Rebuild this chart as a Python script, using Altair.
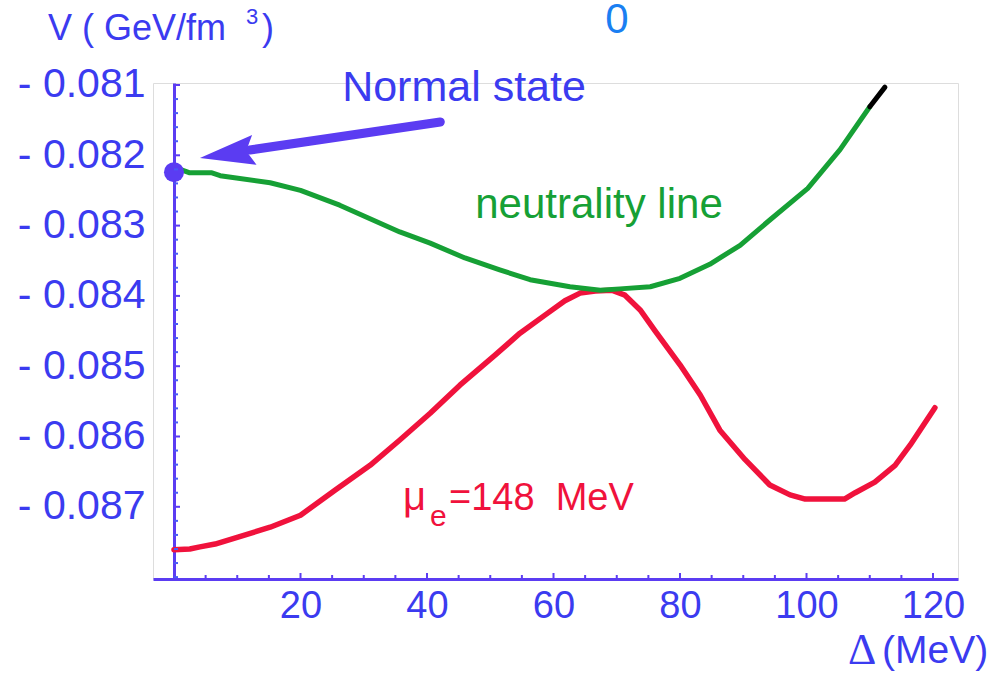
import altair as alt
import pandas as pd

# ---------------- data ----------------
green_x = [0.0, 1.3, 2.5, 6.0, 7.3, 15.2, 20.0, 26.2, 35.7, 40.5, 46.0, 51.5, 56.3,
           62.6, 67.4, 70.5, 75.3, 80.0, 84.7, 89.5, 94.2, 100.2, 105.3, 110.0]
green_v = [-0.08224, -0.08221, -0.08225, -0.08225, -0.08229, -0.08239, -0.08250,
           -0.08271, -0.08309, -0.08325, -0.08346, -0.08363, -0.08377, -0.08387,
           -0.08392, -0.08390, -0.08387, -0.08375, -0.08355, -0.08328, -0.08292,
           -0.08247, -0.08192, -0.08131]
black_x = [110.0, 112.4]
black_v = [-0.08131, -0.08103]

red_x = [0.0, 2.5, 4.1, 6.5, 15.2, 20.0, 25.5, 31.0, 35.7, 40.5, 45.2, 50.8, 54.7,
         58.7, 61.8, 64.2, 66.6, 69.2, 71.3, 73.7, 76.0, 80.0, 83.2, 86.3, 90.3,
         94.2, 97.4, 99.8, 106.0, 107.7, 110.8, 114.0, 116.4, 120.3]
red_v = [-0.08761, -0.08760, -0.08757, -0.08753, -0.08729, -0.08712, -0.08676,
         -0.08641, -0.08605, -0.08567, -0.08527, -0.08484, -0.08453, -0.08427,
         -0.08407, -0.08396, -0.08393, -0.08392, -0.08399, -0.08420, -0.08449,
         -0.08498, -0.08541, -0.08591, -0.08633, -0.08669, -0.08683, -0.08689,
         -0.08689, -0.08680, -0.08665, -0.08641, -0.08612, -0.08559]

dot_x = [0.0]
dot_v = [-0.08224]
arrow_x = [42.1, 12.0]
arrow_v = [-0.081526, -0.081925]
head_x = [4.1]
head_v = [-0.082038]

x_major = [20, 40, 60, 80, 100, 120]
x_minor = [5, 10, 15, 25, 30, 35, 45, 50, 55, 65, 70, 75, 85, 90, 95, 105, 110, 115]
y_major = [-0.081, -0.082, -0.083, -0.084, -0.085, -0.086, -0.087]
y_minor = [-0.0812, -0.0814, -0.0816, -0.0818, -0.0822, -0.0824, -0.0826, -0.0828,
           -0.0832, -0.0834, -0.0836, -0.0838, -0.0842, -0.0844, -0.0846, -0.0848,
           -0.0852, -0.0854, -0.0856, -0.0858, -0.0862, -0.0864, -0.0866, -0.0868,
           -0.0872, -0.0874, -0.0876, -0.0878, -0.0880]

# ---------------- styling ----------------
W, H = 805, 496
FONT = "Liberation Sans"
BLUE = "#3b3bf0"
VIOLET = "#5b3cf2"
GREEN = "#16a035"
RED = "#f0123c"

xs = alt.Scale(domain=[-3.32, 123.95], nice=False, zero=False)
ys = alt.Scale(domain=[-0.088027, -0.0809716], nice=False, zero=False)

xaxis = alt.Axis(values=x_major, title=None, grid=False, ticks=False,
                 domainColor=VIOLET, domainWidth=3, labelFont=FONT,
                 labelFontSize=38, labelColor=BLUE, labelPadding=8,
                 labelFlush=False)
yaxis = alt.Axis(values=y_major, title=None, grid=False, ticks=False, offset=-21,
                 domainColor=VIOLET, domainWidth=3, labelFont=FONT,
                 labelFontSize=41, labelColor=BLUE, labelPadding=29,
                 labelExpr="'-\u00a0' + format(-datum.value, '.3f')")


def xy():
    return dict(x=alt.X("x:Q", scale=xs, axis=xaxis),
                y=alt.Y("v:Q", scale=ys, axis=yaxis))


red = alt.Chart(pd.DataFrame({"x": red_x, "v": red_v})).mark_line(
    color=RED, strokeWidth=5.5, strokeCap="round", strokeJoin="round").encode(**xy())
green = alt.Chart(pd.DataFrame({"x": green_x, "v": green_v})).mark_line(
    color=GREEN, strokeWidth=5, strokeCap="round", strokeJoin="round").encode(**xy())
black = alt.Chart(pd.DataFrame({"x": black_x, "v": black_v})).mark_line(
    color="black", strokeWidth=5, strokeCap="round").encode(**xy())
shaft = alt.Chart(pd.DataFrame({"x": arrow_x, "v": arrow_v})).mark_line(
    color=VIOLET, strokeWidth=9, strokeCap="round").encode(**xy())
head = alt.Chart(pd.DataFrame({"x": head_x, "v": head_v})).mark_point(
    shape="M0,0 L2,-0.55 L1.7,0 L2,0.55 Z", filled=True, size=3025, angle=351.5,
    color=VIOLET, opacity=1, strokeWidth=0).encode(**xy())
dot = alt.Chart(pd.DataFrame({"x": dot_x, "v": dot_v})).mark_circle(
    color=VIOLET, size=400, opacity=1).encode(**xy())

xt_major = alt.Chart(pd.DataFrame({"x": x_major})).mark_rule(
    color=VIOLET, strokeWidth=2).encode(
    x=alt.X("x:Q", scale=xs, axis=xaxis), y=alt.value(H), y2=alt.value(H - 6))
xt_minor = alt.Chart(pd.DataFrame({"x": x_minor})).mark_rule(
    color=VIOLET, strokeWidth=2).encode(
    x=alt.X("x:Q", scale=xs, axis=xaxis), y=alt.value(H), y2=alt.value(H - 4))
yt_major = alt.Chart(pd.DataFrame({"v": y_major})).mark_rule(
    color=VIOLET, strokeWidth=2).encode(
    y=alt.Y("v:Q", scale=ys, axis=yaxis), x=alt.value(21), x2=alt.value(27))
yt_minor = alt.Chart(pd.DataFrame({"v": y_minor})).mark_rule(
    color="#4a5af5", strokeWidth=2).encode(
    y=alt.Y("v:Q", scale=ys, axis=yaxis), x=alt.value(21), x2=alt.value(25))


def label(text, px, py, size, color, align="left", baseline="alphabetic", font=FONT):
    return alt.Chart(pd.DataFrame({"t": [text]})).mark_text(
        text=text, font=font, fontSize=size, color=color, align=align,
        baseline=baseline).encode(x=alt.value(px - 153), y=alt.value(py - 83))


NB = "\u00a0"
texts = [
    label("V" + NB + "(" + NB + "GeV/fm", 48, 40, 36, BLUE),
    label("3", 246, 24, 22, BLUE),
    label(")", 262, 40, 36, BLUE),
    label("0", 617, 33, 42, "#1a7ff2", align="center"),
    label("Normal state", 464, 101, 43, BLUE, align="center"),
    label("neutrality line", 599, 218, 42, GREEN, align="center"),
    label("\u03bc", 403, 510, 40, RED),
    label("e", 430, 526, 30, RED),
    label("=148" + NB * 2 + "MeV", 449, 510, 38, RED),
    label("\u0394", 848, 664, 44, BLUE, font="Liberation Serif"),
    label("(MeV)", 882, 663, 39, BLUE),
]

chart = alt.layer(
    red, green, black, shaft, head, dot, xt_major, xt_minor, yt_major, yt_minor, *texts
).properties(
    width=W, height=H,
    autosize=alt.AutoSizeParams(type="none"),
    padding={"left": 153, "top": 83, "right": 50, "bottom": 94},
).configure_view(stroke=None).configure(background="white")

chart.save("out.html", embed_options={"renderer": "svg", "actions": False})
